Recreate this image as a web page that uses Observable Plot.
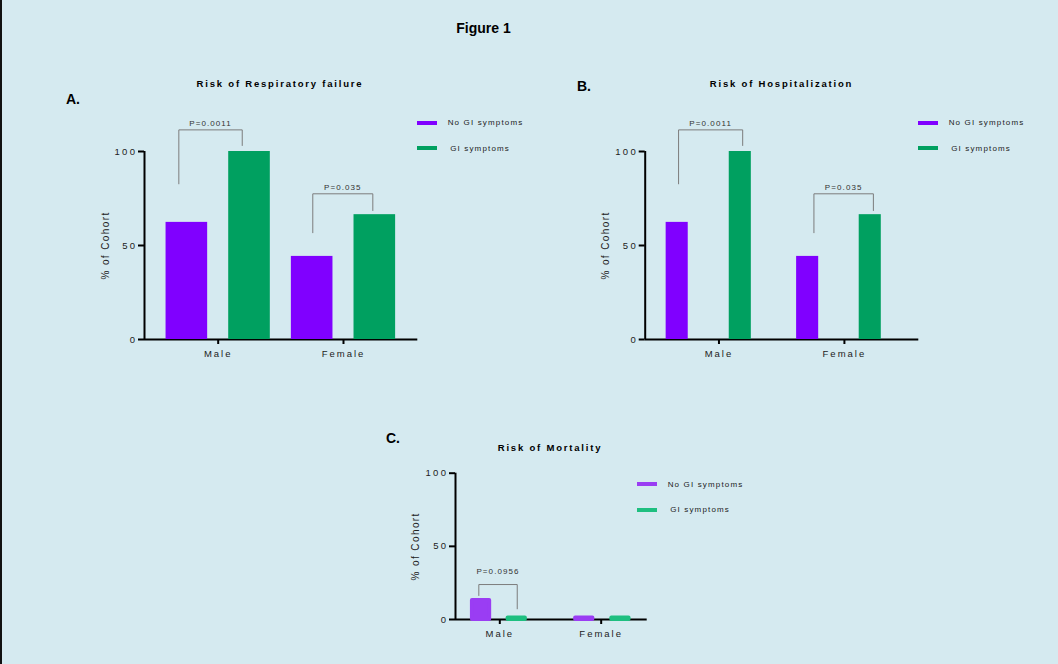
<!DOCTYPE html>
<html>
<head>
<meta charset="utf-8">
<script src="https://cdn.jsdelivr.net/npm/d3@7"></script>
<script src="https://cdn.jsdelivr.net/npm/@observablehq/plot@0.6"></script>
<style>
  html, body { margin: 0; padding: 0; background: #d5eaf0; }
  #fig { position: relative; width: 1058px; height: 664px; background: #d5eaf0; overflow: hidden;
         font-family: "Liberation Sans", Arial, sans-serif; color: #000; }
  #fig .edge { position: absolute; left: 0; top: 0; width: 2px; height: 664px; background: #111; }
  .t { position: absolute; white-space: nowrap; line-height: 1; }
  .panel { position: absolute; }
  .panel svg { overflow: visible; }
  .panel g[aria-label="y-axis tick label"] text { letter-spacing: 2.4px; }
  .panel g[aria-label="x-axis tick label"] text { letter-spacing: 2px; }
  .panel g.ylab text { letter-spacing: 1.4px; }
  .panel g.plab text { letter-spacing: 1.1px; }
  .sw { position: absolute; height: 4px; width: 20px; }
</style>
</head>
<body>
<div id="fig"><div class="edge"></div></div>
<script>
// ---------------- data ----------------
const sexes = ["Male", "Female"];
const groups = ["No GI symptoms", "GI symptoms"];
const yTicks = [0, 50, 100];

const respNoGI = [62.3, 44.2];
const respGI = [100, 66.4];
const respP = ["P=0.0011", "P=0.035"];
// bracket levels (% of cohort): left end, top, right end
const respBracketLeft = [82.8, 56.8];
const respBracketTop = [111.5, 77.5];
const respBracketRight = [103.2, 68.6];

const hospNoGI = [62.3, 44.2];
const hospGI = [100, 66.4];
const hospP = ["P=0.0011", "P=0.035"];
const hospBracketLeft = [82.8, 56.8];
const hospBracketTop = [111.5, 77.5];
const hospBracketRight = [103.2, 68.6];

const mortNoGI = [12, 0];
const mortGI = [0, 0];
const mortP = ["P=0.0956"];
const mortBracketLeft = [16.4];
const mortBracketTop = [23.9];
const mortBracketRight = [7.3];

// ---------------- layout ----------------
const fig = document.getElementById("fig");

function txt(s, x, y, css, anchor = "middle") {
  const d = document.createElement("div");
  d.className = "t";
  d.textContent = s;
  d.style.cssText += css;
  d.style.left = x + "px";
  d.style.top = y + "px";
  d.style.transform = anchor === "middle" ? "translate(-50%,-50%)" : "translate(0,-50%)";
  fig.appendChild(d);
  return d;
}

function legend(x, y, colors) {
  groups.forEach((g, i) => {
    const sw = document.createElement("div");
    sw.className = "sw";
    sw.style.left = x + "px";
    sw.style.top = (y + i * 25.5 - 2) + "px";
    sw.style.background = colors[i];
    fig.appendChild(sw);
    txt(g, x + 31 + (i === 1 ? 2.5 : 0), y + i * 25.5 + 0.5,
        "font-size:8px;letter-spacing:1.15px;color:#222;", "start");
  });
}

function panel(cfg) {
  const rows = [];
  sexes.forEach((s, i) => {
    rows.push({sex: s, group: groups[0], value: cfg.noGI[i], xc: i + 1 + cfg.barOff[i][0]});
    rows.push({sex: s, group: groups[1], value: cfg.gi[i], xc: i + 1 + cfg.barOff[i][1]});
  });
  const lines = [];
  const plabs = [];
  cfg.p.forEach((p, i) => {
    const xl = i + 1 + cfg.brOff[i][0], xr = i + 1 + cfg.brOff[i][1];
    lines.push({id: i, x: xl, y: cfg.bl[i]});
    lines.push({id: i, x: xl, y: cfg.bt[i]});
    lines.push({id: i, x: xr, y: cfg.bt[i]});
    lines.push({id: i, x: xr, y: cfg.br[i]});
    plabs.push({x: (xl + xr) / 2, y: cfg.bt[i], text: p});
  });
  const hw = cfg.barW / 2;
  const bars = Plot.rect(rows, {
    x1: d => d.xc - hw, x2: d => d.xc + hw, y1: d => 0, y2: "value",
    fill: "group",
    stroke: cfg.barStroke ? "group" : null,
    strokeWidth: cfg.barStroke || 0,
    strokeLinejoin: "round",
    insetTop: cfg.barStroke ? -1.5 : 0
  });
  const marks = [
    Plot.ruleY([0], {stroke: "#000", strokeWidth: 2}),
    Plot.ruleX([cfg.xDomain[0]], {stroke: "#000", strokeWidth: 2}),
    Plot.axisY({ticks: yTicks, tickSize: 6, tickPadding: 1, strokeWidth: 2, label: null,
                fill: "#222", fontSize: 9.5}),
    Plot.axisX({ticks: [1, 2], tickFormat: v => sexes[v - 1], tickSize: 5, tickPadding: 6,
                strokeWidth: 2, label: null, fill: "#222", fontSize: 9.5}),
    bars,
    Plot.line(lines, {x: "x", y: "y", z: "id", stroke: "#7c7c7c", strokeWidth: 1, curve: "linear"}),
    Plot.text(plabs, {x: "x", y: "y", text: "text", dy: -cfg.pDy, fontSize: 8, fill: "#333"}),
    Plot.text(["% of Cohort"], {frameAnchor: "left", textAnchor: "middle", lineAnchor: "middle",
                                rotate: -90, dx: -cfg.ylabDx, fontSize: 10, fill: "#222"})
  ];
  const svg = Plot.plot({
    width: cfg.w, height: cfg.h,
    marginLeft: cfg.ml, marginRight: cfg.mr, marginTop: cfg.mt, marginBottom: cfg.mb,
    x: {type: "linear", domain: cfg.xDomain, axis: null},
    y: {domain: [0, 100], axis: null},
    color: {domain: groups, range: cfg.colors},
    style: {background: "transparent", fontFamily: "'Liberation Sans', Arial, sans-serif", overflow: "visible"},
    marks
  });
  // tag text marks for styling
  const textGroups = svg.querySelectorAll('g[aria-label="text"]');
  if (textGroups[0]) textGroups[0].classList.add("plab");
  if (textGroups[1]) textGroups[1].classList.add("ylab");
  const holder = document.createElement("div");
  holder.className = "panel";
  holder.style.left = cfg.left + "px";
  holder.style.top = cfg.top + "px";
  holder.appendChild(svg);
  fig.appendChild(holder);
}

const darkColors = ["#8000ff", "#00a060"];
const lightColors = ["#9a3df3", "#1ebf80"];

// Panel A
panel({
  noGI: respNoGI, gi: respGI, p: respP,
  bl: respBracketLeft, bt: respBracketTop, br: respBracketRight,
  left: 60, top: 60, w: 380, h: 320, ml: 84, mr: 22.7, mt: 91, mb: 41,
  xDomain: [0.412, 2.593],
  barOff: [[-0.25, 0.25], [-0.25, 0.25]], barW: 0.332,
  brOff: [[-0.314, 0.192], [-0.245, 0.234]],
  pDy: 6.6, ylabDx: 39, colors: darkColors
});

// Panel B
panel({
  noGI: hospNoGI, gi: hospGI, p: hospP,
  bl: hospBracketLeft, bt: hospBracketTop, br: hospBracketRight,
  left: 560, top: 60, w: 380, h: 320, ml: 84.7, mr: 21.7, mt: 91, mb: 41,
  xDomain: [0.412, 2.593],
  barOff: [[-0.333, 0.170], [-0.293, 0.206]], barW: 0.176,
  brOff: [[-0.322, 0.189], [-0.243, 0.231]],
  pDy: 6.6, ylabDx: 39, colors: darkColors
});

// Panel C
panel({
  noGI: mortNoGI, gi: mortGI, p: mortP,
  bl: mortBracketLeft, bt: mortBracketTop, br: mortBracketRight,
  left: 370, top: 450, w: 300, h: 200, ml: 85, mr: 23.3, mt: 22.7, mb: 31,
  xDomain: [0.563, 2.454],
  barOff: [[-0.185, 0.167], [-0.167, 0.19]], barW: 0.17, barStroke: 4,
  brOff: [[-0.207, 0.172]],
  pDy: 13, ylabDx: 40, colors: lightColors
});

// Titles and labels
txt("Figure 1", 483.5, 28, "font-size:14px;font-weight:bold;");
txt("A.", 66, 99, "font-size:14px;font-weight:bold;", "start");
txt("B.", 577, 86, "font-size:14px;font-weight:bold;", "start");
txt("C.", 386, 438, "font-size:14px;font-weight:bold;", "start");
txt("Risk of Respiratory failure", 280, 84, "font-size:9.5px;font-weight:bold;letter-spacing:1.8px;");
txt("Risk of Hospitalization", 781.5, 84, "font-size:9.5px;font-weight:bold;letter-spacing:1.8px;");
txt("Risk of Mortality", 550, 448, "font-size:9.5px;font-weight:bold;letter-spacing:1.8px;");

legend(416.7, 122.5, darkColors);
legend(917.7, 122.5, darkColors);
legend(636.7, 484, lightColors);
</script>
</body>
</html>
